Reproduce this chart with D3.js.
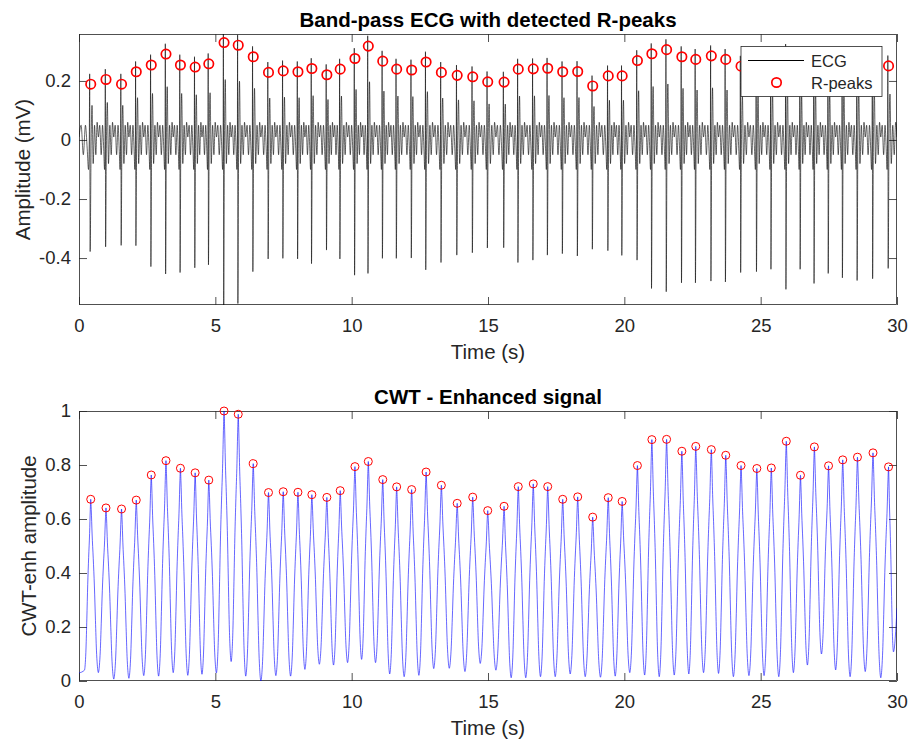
<!DOCTYPE html>
<html>
<head>
<meta charset="utf-8">
<script src="https://cdn.jsdelivr.net/npm/d3@7"></script>
<style>
  body { margin: 0; background: #fff; }
  text { font-family: "Liberation Sans", Arial, Helvetica, sans-serif; }
</style>
</head>
<body>
<svg id="fig" width="910" height="740"></svg>
<script>
// R-peak times (s)
const rTimes = [0.43, 0.99, 1.56, 2.10, 2.65, 3.19, 3.72, 4.26, 4.76, 5.32, 5.84, 6.39, 6.95, 7.49,
    8.03, 8.54, 9.09, 9.58, 10.12, 10.61, 11.14, 11.65, 12.20, 12.73, 13.29, 13.87, 14.44, 14.99,
    15.59, 16.11, 16.66, 17.19, 17.74, 18.29, 18.84, 19.41, 19.92, 20.48, 21.01, 21.55, 22.11, 22.62,
    23.19, 23.72, 24.28, 24.86, 25.39, 25.94, 26.46, 26.97, 27.49, 28.01, 28.55, 29.12, 29.69];

// ECG amplitude at each R-peak (mV)
const ecgPeaks = [0.189, 0.205, 0.189, 0.231, 0.254, 0.291, 0.254, 0.247, 0.258, 0.330, 0.321, 0.282,
    0.229, 0.234, 0.231, 0.242, 0.221, 0.240, 0.276, 0.318, 0.267, 0.240, 0.237, 0.264, 0.229, 0.219,
    0.214, 0.197, 0.196, 0.240, 0.241, 0.243, 0.231, 0.232, 0.183, 0.217, 0.217, 0.269, 0.292, 0.306,
    0.282, 0.273, 0.285, 0.273, 0.250, 0.26, 0.26, 0.29, 0.25, 0.28, 0.26, 0.27, 0.27, 0.28, 0.251];

// depth of the S-wave just after each R-peak (mV)
const ecgTroughs = [-0.378, -0.362, -0.357, -0.358, -0.429, -0.454, -0.449, -0.433, -0.423, -0.60,
    -0.554, -0.446, -0.403, -0.401, -0.403, -0.419, -0.373, -0.403, -0.458, -0.452, -0.401, -0.401,
    -0.400, -0.440, -0.415, -0.390, -0.382, -0.366, -0.365, -0.415, -0.407, -0.390, -0.385, -0.393,
    -0.370, -0.375, -0.391, -0.407, -0.503, -0.514, -0.484, -0.484, -0.478, -0.481, -0.449, -0.446,
    -0.438, -0.506, -0.438, -0.486, -0.452, -0.467, -0.476, -0.470, -0.435];

// CWT-enhanced amplitude at each R-peak
const cwtPeaks = [0.673, 0.641, 0.637, 0.670, 0.763, 0.816, 0.788, 0.771, 0.744, 1.0, 0.988, 0.805,
    0.698, 0.701, 0.699, 0.690, 0.680, 0.705, 0.794, 0.813, 0.746, 0.719, 0.709, 0.774, 0.725, 0.658,
    0.681, 0.631, 0.647, 0.720, 0.730, 0.720, 0.673, 0.682, 0.607, 0.679, 0.665, 0.798, 0.894, 0.895,
    0.851, 0.869, 0.857, 0.836, 0.798, 0.787, 0.789, 0.888, 0.762, 0.867, 0.797, 0.819, 0.829, 0.845,
    0.793];

// CWT minimum between consecutive peaks
const cwtTroughs = [0.031, 0.007, 0.010, 0.020, 0.018, 0.031, 0.021, 0.025, 0.030, 0.072, 0.018, 0.0,
    0.020, 0.018, 0.043, 0.062, 0.059, 0.068, 0.080, 0.068, 0.026, 0.016, 0.021, 0.046, 0.047, 0.035,
    0.065, 0.040, 0.012, 0.012, 0.016, 0.016, 0.026, 0.016, 0.014, 0.018, 0.031, 0.022, 0.016, 0.022,
    0.026, 0.031, 0.028, 0.016, 0.020, 0.020, 0.016, 0.031, 0.059, 0.100, 0.041, 0.016, 0.035, 0.012];

// CWT level before the first beat and after the last one
const cwtLeadTimes = [0, 0.2];
const cwtLeadValues = [0.03, 0.04];
const cwtTailTimes = [29.87, 30];
const cwtTailValues = [0.108, 0.27];

// one heartbeat of the band-pass ECG, u = offset in half RR-intervals
// value = v + r * R-amplitude + s * S-depth
const ecgBeatShape = [
    {u: -1.00, v: 0.01}, {u: -0.82, v: 0.05}, {u: -0.63, v: -0.05}, {u: -0.45, v: 0.05},
    {u: -0.30, v: -0.03}, {u: -0.19, v: -0.10}, {u: -0.12, v: 0.01},
    {u: -0.09, v: 0.035, r: 1}, {u: -0.05, s: 1}, {u: 0.05, v: -0.02}, {u: 0.17, r: 0.62},
    {u: 0.32, v: -0.08}, {u: 0.50, v: 0.05}, {u: 0.67, v: -0.05}, {u: 0.84, v: 0.06},
    {u: 1.00, v: 0.01}
];

// one half of a CWT hump: fraction of the way from trough to peak
const cwtShapeU = [0, 0.07, 0.18, 0.33, 0.48, 0.62, 0.75, 0.86, 0.94, 1];
const cwtShapeF = [1, 0.94, 0.8, 0.66, 0.5, 0.3, 0.13, 0.045, 0.01, 0];

const xTicks = [0, 5, 10, 15, 20, 25, 30];
const ecgTicks = [-0.4, -0.2, 0, 0.2];
const cwtTicks = [0, 0.2, 0.4, 0.6, 0.8, 1];

// build the two traces from the beats
const last = rTimes.length - 1;
const ecgSeries = [];
rTimes.forEach((t, i) => {
    const lo = i === 0 ? 0 : (rTimes[i - 1] + t) / 2;
    const hi = i === last ? 30 : (t + rTimes[i + 1]) / 2;
    ecgBeatShape.forEach(p => {
        if (p.u === 1 && i !== last) return;
        const dt = p.u < 0 ? p.u * (t - lo) : p.u * (hi - t);
        const val = (p.v || 0) + (p.r || 0) * ecgPeaks[i] + (p.s || 0) * ecgTroughs[i];
        ecgSeries.push([t + dt, val]);
    });
});

const cwtSeries = [[cwtLeadTimes[0], cwtLeadValues[0]]];
rTimes.forEach((t, i) => {
    const lo = i === 0 ? cwtLeadTimes[1] : (rTimes[i - 1] + t) / 2;
    const hi = i === last ? cwtTailTimes[0] : (t + rTimes[i + 1]) / 2;
    const troughL = i === 0 ? cwtLeadValues[1] : cwtTroughs[i - 1];
    const troughR = i === last ? cwtTailValues[0] : cwtTroughs[i];
    const pk = cwtPeaks[i];
    for (let k = cwtShapeU.length - 1; k > 0; k--) {
        cwtSeries.push([t - cwtShapeU[k] * (t - lo), troughL + (pk - troughL) * cwtShapeF[k]]);
    }
    cwtShapeU.forEach((u, k) => {
        if (u === 1 && i !== last) return;
        cwtSeries.push([t + u * (hi - t), troughR + (pk - troughR) * cwtShapeF[k]]);
    });
});
cwtSeries.push([cwtTailTimes[1], cwtTailValues[1]]);

// layout
const svg = d3.select('#fig');
const left = 79, right = 897;
const ink = '#262626';
const tickFont = 18.5, labelFont = 20.5;

const x = d3.scaleLinear().domain([0, 30]).range([left, right]);
const yEcg = d3.scaleLinear().domain([-0.559, 0.359]).range([305, 34]);
const yCwt = d3.scaleLinear().domain([0, 1]).range([681, 411]);

function panel(id, y, yTicks, title, ylabel, ylabelX) {
    const [y1, y0] = y.range();
    const g = svg.append('g');
    const tickLen = 8;

    g.append('clipPath').attr('id', id)
        .append('rect')
        .attr('x', left).attr('y', y0)
        .attr('width', right - left).attr('height', y1 - y0);

    const axes = [
        [d3.axisBottom(x).tickValues(xTicks).tickPadding(13.5).tickFormat(d => d), `translate(0,${y1})`],
        [d3.axisTop(x).tickValues(xTicks).tickFormat(''), `translate(0,${y0})`],
        [d3.axisLeft(y).tickValues(yTicks).tickPadding(8).tickFormat(d => String(d)), `translate(${left},0)`],
        [d3.axisRight(y).tickValues(yTicks).tickFormat(''), `translate(${right},0)`]
    ];
    axes.forEach(([ax, tr]) => {
        const a = g.append('g').attr('transform', tr)
            .call(ax.tickSizeInner(-tickLen).tickSizeOuter(0));
        a.select('.domain').remove();
        a.selectAll('line').attr('stroke', ink).attr('stroke-width', 0.8);
        a.selectAll('text')
            .attr('fill', ink)
            .style('font-size', tickFont + 'px')
            .style('font-family', '"Liberation Sans", Arial, sans-serif');
    });

    g.append('rect')
        .attr('x', left + 0.5).attr('y', y0 + 0.5)
        .attr('width', right - left - 1).attr('height', y1 - y0 - 1)
        .attr('fill', 'none')
        .attr('stroke', ink)
        .attr('stroke-width', 0.8);

    g.append('text')
        .attr('x', (left + right) / 2)
        .attr('y', y0 - 7.5)
        .attr('text-anchor', 'middle')
        .style('font-size', labelFont + 'px')
        .style('font-weight', 'bold')
        .attr('fill', '#000')
        .text(title);

    g.append('text')
        .attr('x', (left + right) / 2)
        .attr('y', y1 + 54)
        .attr('text-anchor', 'middle')
        .style('font-size', labelFont + 'px')
        .attr('fill', ink)
        .text('Time (s)');

    g.append('text')
        .attr('transform', `translate(${ylabelX},${(y0 + y1) / 2}) rotate(-90)`)
        .attr('text-anchor', 'middle')
        .style('font-size', labelFont + 'px')
        .attr('fill', ink)
        .text(ylabel);

    return g;
}

// top: band-pass ECG
const gTop = panel('clipTop', yEcg, ecgTicks, 'Band-pass ECG with detected R-peaks', 'Amplitude (mV)', 30);

gTop.append('path')
    .datum(ecgSeries)
    .attr('clip-path', 'url(#clipTop)')
    .attr('fill', 'none')
    .attr('stroke', '#000')
    .attr('stroke-width', 0.6)
    .attr('d', d3.line().curve(d3.curveMonotoneX).x(d => x(d[0])).y(d => yEcg(d[1])));

gTop.selectAll('circle.rpk')
    .data(rTimes)
    .join('circle')
    .attr('class', 'rpk')
    .attr('cx', d => x(d))
    .attr('cy', (d, i) => yEcg(ecgPeaks[i]))
    .attr('r', 4.7)
    .attr('fill', 'none')
    .attr('stroke', '#ff0000')
    .attr('stroke-width', 1.7);

// legend
const lg = gTop.append('g');
lg.append('rect')
    .attr('x', 741).attr('y', 46.5)
    .attr('width', 141).attr('height', 50)
    .attr('fill', '#fff')
    .attr('stroke', ink)
    .attr('stroke-width', 0.8);
lg.append('line')
    .attr('x1', 748).attr('x2', 804)
    .attr('y1', 60.5).attr('y2', 60.5)
    .attr('stroke', '#000')
    .attr('stroke-width', 1);
lg.append('circle')
    .attr('cx', 776.5).attr('cy', 82.5).attr('r', 4.7)
    .attr('fill', 'none')
    .attr('stroke', '#ff0000')
    .attr('stroke-width', 1.7);
lg.selectAll('text.lgt')
    .data(['ECG', 'R-peaks'])
    .join('text')
    .attr('class', 'lgt')
    .attr('x', 811)
    .attr('y', (d, i) => 66.5 + i * 22)
    .style('font-size', '16.5px')
    .attr('fill', ink)
    .text(d => d);

// bottom: CWT-enhanced signal
const gBot = panel('clipBot', yCwt, cwtTicks, 'CWT - Enhanced signal', 'CWT-enh amplitude', 36);

gBot.append('path')
    .datum(cwtSeries)
    .attr('clip-path', 'url(#clipBot)')
    .attr('fill', 'none')
    .attr('stroke', '#0000ff')
    .attr('stroke-width', 0.6)
    .attr('d', d3.line().curve(d3.curveMonotoneX).x(d => x(d[0])).y(d => yCwt(d[1])));

gBot.selectAll('circle.cpk')
    .data(rTimes)
    .join('circle')
    .attr('class', 'cpk')
    .attr('cx', d => x(d))
    .attr('cy', (d, i) => yCwt(cwtPeaks[i]))
    .attr('r', 4)
    .attr('fill', 'none')
    .attr('stroke', '#ff0000')
    .attr('stroke-width', 1);
</script>
</body>
</html>
